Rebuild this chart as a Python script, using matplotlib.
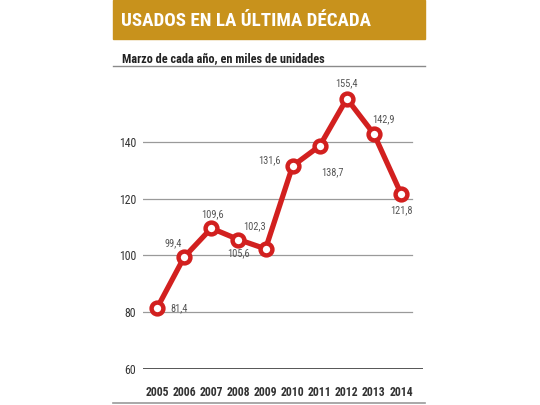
import matplotlib
matplotlib.use("Agg")
import matplotlib.pyplot as plt
from matplotlib.patches import Rectangle
from matplotlib.lines import Line2D

years = [2005, 2006, 2007, 2008, 2009, 2010, 2011, 2012, 2013, 2014]
units = [81.4, 99.4, 109.6, 105.6, 102.3, 131.6, 138.7, 155.4, 142.9, 121.8]
labels = ["81,4", "99,4", "109,6", "105,6", "102,3", "131,6", "138,7", "155,4", "142,9", "121,8"]
yticks = [60, 80, 100, 120, 140]

# label offsets in points (dx, dy), picked by eye
offsets = [(16, 0), (-8, 10), (1, 10), (0, -10), (-8, 16),
           (-17, 4), (9, -19), (0, 11), (7, 11), (0, -12)]

plt.rcParams['font.family'] = ['Roboto Condensed', 'Roboto', 'DejaVu Sans']

W, H = 540, 405
fig = plt.figure(figsize=(5.4, 4.05), dpi=100)

def fx(px):
    return px / W

def fy(py):
    return 1 - py / H

# title bar
fig.patches.append(Rectangle((fx(113), fy(39)), fx(312), 39 / H,
                             transform=fig.transFigure, color='#c8921c', zorder=0))
fig.text(fx(121), fy(21.5), "USADOS EN LA ÚLTIMA DÉCADA", color='white',
         fontsize=13.7, fontweight='bold', va='center', ha='left')
fig.text(fx(122), fy(58.5), "Marzo de cada año, en miles de unidades", color='#222222',
         fontsize=8.8, fontweight='bold', va='center', ha='left')
fig.lines.append(Line2D([fx(113), fx(425)], [fy(65.5), fy(65.5)], transform=fig.transFigure,
                        color='#8a8a8a', lw=1))
fig.lines.append(Line2D([fx(113), fx(425)], [fy(403), fy(403)], transform=fig.transFigure,
                        color='#9a9a9a', lw=1.2))

ax = fig.add_axes([fx(143), fy(368.5), fx(280), 288.5 / H])
ax.set_xlim(2004.48, 2014.81)
ax.set_ylim(60, 162)
for s in ax.spines.values():
    s.set_visible(False)

for v in yticks[1:]:
    ax.axhline(v, xmin=0, xmax=0.96, color='#9a9a9a', lw=0.9, zorder=1)
ax.axhline(60, color='#222222', lw=1.8, zorder=1)

ax.plot(years, units, color='#d2201f', lw=3.8, zorder=3,
        marker='o', markersize=8.5, markerfacecolor='white',
        markeredgecolor='#d2201f', markeredgewidth=3.2, solid_joinstyle='miter')

for x, v, t, (dx, dy) in zip(years, units, labels, offsets):
    ax.annotate(t, (x, v), xytext=(dx, dy), textcoords='offset points',
                ha='center', va='center', fontsize=7.5, color='#555555', zorder=4)

ax.set_yticks(yticks)
ax.set_yticklabels([str(v) for v in yticks])
ax.set_xticks(years)
ax.set_xticklabels([str(y) for y in years], fontweight='bold')
ax.tick_params(axis='both', length=0, labelsize=8.5, colors='#333333')
ax.tick_params(axis='y', pad=5)
ax.tick_params(axis='x', pad=12.5)

fig.savefig("out.png", dpi=100)
